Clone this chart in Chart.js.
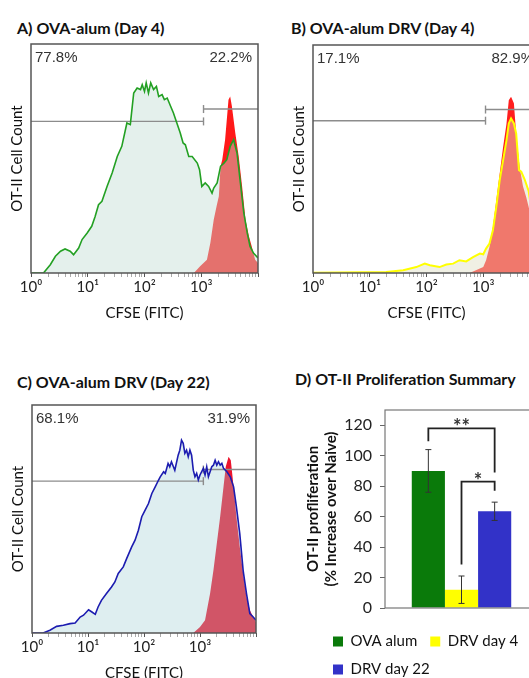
<!DOCTYPE html>
<html lang="en">
<head>
<meta charset="UTF-8">
<title>OT-II proliferation</title>
<script src="https://cdn.jsdelivr.net/npm/chart.js"></script>
<style>
  body { margin: 0; width: 529px; height: 678px; overflow: hidden; position: relative; background: #fff; }
  canvas { position: absolute; }
  .head { position: absolute; font-family: Lato, "Open Sans", sans-serif; font-weight: bold; font-size: 16px; line-height: 20px; color: #111; white-space: nowrap; }
</style>
</head>
<body>
<div class="head" style="left:17px;top:18px">A) OVA-alum (Day 4)</div>
<div class="head" style="left:291px;top:18px">B) OVA-alum DRV (Day 4)</div>
<div class="head" style="left:17px;top:372px">C) OVA-alum DRV (Day 22)</div>
<div class="head" style="left:295px;top:369px">D) OT-II Proliferation Summary</div>

<canvas id="chartA" width="265" height="330" style="left:0;top:0"></canvas>
<canvas id="chartB" width="265" height="330" style="left:282px;top:0"></canvas>
<canvas id="chartC" width="264" height="350" style="left:1px;top:340px"></canvas>
<canvas id="chartD" width="280" height="338" style="left:270px;top:340px"></canvas>

<script>
// x positions are log10(CFSE), y is cell count in % of the plot height
const decadeLabels = ['10⁰', '10¹', '10²', '10³'];

// A) OVA-alum day 4
const aLineX = [0,0.22,0.34,0.43,0.52,0.60,0.69,0.75,0.84,0.90,0.99,1.07,1.13,1.19,1.25,1.34,1.43,1.52,1.60,1.69,1.75,1.81,1.87,1.93,1.96,2.00,2.03,2.07,2.11,2.16,2.21,2.25,2.31,2.35,2.40,2.46,2.51,2.57,2.63,2.68,2.72,2.78,2.84,2.93,2.97,3.01,3.07,3.13,3.19,3.22,3.28,3.34,3.40,3.45,3.51,3.57,3.63,3.69,3.75,3.81,3.86,3.92,4.00];
const aLineY = [0,0,3.6,7.3,9.5,10.5,9.5,8.0,10.9,14.6,17.5,20.4,24.7,29.8,31.3,37.8,43.7,50.9,55.3,65.5,64.8,78.6,80.8,80.1,82.2,79.3,83.0,78.6,83.0,80.1,81.5,77.1,77.9,75.7,76.4,72.8,69.9,65.5,61.1,56.8,56.0,50.9,50.9,48.0,45.1,37.8,39.3,37.8,34.9,37.1,39.3,46.6,48.0,49.5,55.3,58.2,52.4,39.3,26.2,17.5,11.6,8.7,6.6];
const aRedX = [2.87,2.98,3.10,3.16,3.22,3.27,3.31,3.34,3.37,3.42,3.48,3.51,3.54,3.60,3.66,3.72,3.78,3.84,3.89,3.95,4.00];
const aRedY = [0,2.9,5.8,13.1,23.3,29.1,33.5,46.6,49.5,58.2,75.7,77.1,72.8,61.1,50.9,37.8,23.3,16.0,11.6,5.8,4.4];
const aGates = [66.2, 71.6];
const aSplit = 3.04;
const aPct = ['77.8%', '22.2%'];

// B) OVA-alum DRV day 4
const bLineX = [0,1.29,1.59,1.82,1.97,2.06,2.23,2.35,2.47,2.58,2.70,2.82,2.94,3.00,3.05,3.11,3.17,3.23,3.29,3.35,3.41,3.45,3.49,3.54,3.58,3.63,3.67,3.73,3.80,3.88,3.94,4.00];
const bLineY = [0.1,0.4,1.2,2.6,4.1,3.4,2.6,3.7,4.1,5.6,5.1,7.0,8.5,8.2,10.7,12.9,18.7,29.0,40.7,49.5,58.3,65.6,67.8,65.6,61.2,45.1,44.4,41.0,36.0,22.0,10.0,2.0];
const bRedX = [2.76,3.00,3.05,3.11,3.17,3.23,3.29,3.35,3.41,3.45,3.49,3.54,3.58,3.64,3.70,3.76,3.81,3.88,3.95,4.00];
const bRedY = [0,2.6,5.6,11.4,20.2,31.9,43.6,55.3,65.6,75.8,77.3,74.4,61.2,46.6,38.0,33.0,28.0,15.0,5.0,2.0];
const bGates = [66.8, 71.7];
const bSplit = 3.04;
const bPct = ['17.1%', '82.9%'];

// C) OVA-alum DRV day 22
const cLineX = [0,0.20,0.32,0.44,0.56,0.68,0.77,0.86,0.92,1.01,1.07,1.13,1.18,1.24,1.33,1.42,1.48,1.54,1.63,1.69,1.78,1.84,1.90,1.96,2.02,2.08,2.14,2.20,2.26,2.29,2.35,2.38,2.43,2.46,2.49,2.55,2.61,2.64,2.67,2.70,2.73,2.76,2.79,2.82,2.85,2.88,2.91,2.94,2.97,3.00,3.06,3.09,3.12,3.15,3.21,3.24,3.27,3.30,3.33,3.36,3.39,3.42,3.48,3.54,3.60,3.65,3.71,3.77,3.83,3.89,3.95,4.00];
const cLineY = [0,0,1.2,2.9,3.4,4.1,4.4,7.0,7.8,10.2,9.2,8.2,11.4,14.3,17.3,20.2,22.4,26.1,29.0,32.6,37.8,40.7,45.1,51.0,53.9,56.8,61.2,64.1,67.1,68.5,70.7,70.0,74.4,72.9,75.1,71.4,78.0,80.2,84.6,83.2,78.8,80.2,77.3,80.2,78.0,71.4,68.5,70.0,67.1,69.3,72.2,69.3,72.9,68.5,72.9,73.6,75.8,73.6,75.1,73.6,74.4,72.2,70.7,68.5,64.1,55.3,43.6,27.5,17.3,8.5,7.0,5.6];
const cRedX = [2.88,3.00,3.09,3.18,3.24,3.30,3.36,3.42,3.46,3.51,3.55,3.60,3.65,3.71,3.77,3.83,3.89,3.95,4.00];
const cRedY = [0,2.6,5.6,17.3,27.5,39.2,51.0,64.1,72.9,77.3,75.8,64.1,51.0,37.8,26.1,15.8,10.0,7.0,4.8];
const cGates = [66.6, 71.7];
const cSplit = 3.06;
const cPct = ['68.1%', '31.9%'];

// D) proliferation summary
const barLabels = ['OVA alum', 'DRV day 4', 'DRV day 22'];
const barValues = [90, 12, 63.5];
const barErrors = [14, 9, 6];
const yTicksD = [0, 20, 40, 60, 80, 100, 120];
const sigText = ['**', '*'];
const sigFrom = [0, 1];
const sigTo = [2, 2];
const sigTop = [118, 83];
const sigLeftEnd = [109.5, 28.5];
const sigRightEnd = [89, 77];

const calibri = 'Lato, "Open Sans", sans-serif';
const arial = '"Liberation Sans", Arial, sans-serif';

function pts(xs, ys) {
  return xs.map((x, i) => ({ x: x, y: ys[i] }));
}

// outline of the plot area
const framePlugin = {
  id: 'frame',
  afterDatasetsDraw(chart, args, opts) {
    const a = chart.chartArea, ctx = chart.ctx;
    ctx.save();
    ctx.strokeStyle = opts.color || '#555';
    ctx.lineWidth = opts.width || 1.5;
    ctx.strokeRect(a.left, a.top, a.right - a.left, a.bottom - a.top);
    ctx.restore();
  }
};

// gate percentages in the top corners
const cornerPlugin = {
  id: 'corner',
  afterDatasetsDraw(chart, args, opts) {
    if (!opts.texts) return;
    const a = chart.chartArea, ctx = chart.ctx;
    ctx.save();
    ctx.font = '15px ' + arial;
    ctx.fillStyle = '#333';
    ctx.textBaseline = 'middle';
    ctx.textAlign = 'left';
    ctx.fillText(opts.texts[0], a.left + 4, a.top + 14);
    ctx.textAlign = 'right';
    ctx.fillText(opts.texts[1], a.right - 6, a.top + 14);
    ctx.restore();
  }
};

const decadeTicks = [];
for (let n = 0; n < 4; n++) {
  for (let k = 1; k < 10; k++) decadeTicks.push(n + Math.log10(k));
}
decadeTicks.push(4);

function histChart(id, p) {
  const gateStyle = {
    borderColor: '#8c8c8c', borderWidth: 1.4, pointStyle: 'line', pointRotation: 90,
    pointBorderColor: '#8c8c8c', pointBorderWidth: 1.4, pointBackgroundColor: '#8c8c8c',
    fill: false, tension: 0, order: 1
  };
  return new Chart(document.getElementById(id), {
    type: 'line',
    data: {
      datasets: [
        { data: pts(p.lineX, p.lineY), borderColor: p.line, borderWidth: p.lineWidth, fill: false, pointRadius: 0, tension: 0, order: 0 },
        Object.assign({ data: [{ x: 0, y: p.gates[0] }, { x: p.split, y: p.gates[0] }], pointRadius: [0, 4] }, gateStyle),
        Object.assign({ data: [{ x: p.split, y: p.gates[1] }, { x: 4, y: p.gates[1] }], pointRadius: [4, 0] }, gateStyle),
        { data: pts(p.lineX, p.lineY), borderWidth: 0, borderColor: 'rgba(0,0,0,0)', backgroundColor: p.fill, fill: 'origin', pointRadius: 0, tension: 0, order: 2 },
        { data: pts(p.redX, p.redY), borderWidth: 0, borderColor: 'rgba(0,0,0,0)', backgroundColor: p.red, fill: 'origin', pointRadius: 0, tension: 0, order: 3 }
      ]
    },
    options: {
      responsive: false,
      animation: false,
      events: [],
      layout: { padding: p.pad },
      scales: {
        x: {
          type: 'linear', min: 0, max: 4,
          afterBuildTicks: s => { s.ticks = decadeTicks.map(v => ({ value: v })); },
          afterFit: s => { s.height = 57; },
          ticks: {
            autoSkip: false, maxRotation: 0, padding: 1, color: '#222',
            font: { family: calibri, size: 15 },
            callback: v => (Number.isInteger(v) && v < 4 ? decadeLabels[v] : '')
          },
          grid: {
            drawOnChartArea: false, tickLength: 4,
            color: c => (c.tick && Number.isInteger(c.tick.value) ? '#555' : '#aaa')
          },
          border: { display: false },
          title: { display: true, text: 'CFSE (FITC)', color: '#111', font: { family: calibri, size: 15 }, padding: 8 }
        },
        y: {
          min: 0, max: 100,
          afterFit: s => { s.width = 31; },
          ticks: { display: false },
          grid: { display: false },
          border: { display: false },
          title: { display: true, text: 'OT-II Cell Count', color: '#111', font: { family: calibri, size: 15 }, padding: 8 }
        }
      },
      plugins: {
        legend: { display: false },
        tooltip: { enabled: false },
        frame: { color: '#555', width: 1.5 },
        corner: { texts: p.pct }
      }
    },
    plugins: [framePlugin, cornerPlugin]
  });
}

histChart('chartA', {
  lineX: aLineX, lineY: aLineY, redX: aRedX, redY: aRedY, gates: aGates, split: aSplit, pct: aPct,
  line: '#23a023', lineWidth: 1.6, fill: 'rgba(195,222,213,0.45)', red: 'rgb(255,25,25)',
  pad: { top: 44, right: 7, left: 0, bottom: 0 }
});
histChart('chartB', {
  lineX: bLineX, lineY: bLineY, redX: bRedX, redY: bRedY, gates: bGates, split: bSplit, pct: bPct,
  line: '#ffff00', lineWidth: 2, fill: 'rgba(223,223,198,0.47)', red: 'rgb(255,30,30)',
  pad: { top: 45, right: 7, left: 0, bottom: 0 }
});
histChart('chartC', {
  lineX: cLineX, lineY: cLineY, redX: cRedX, redY: cRedY, gates: cGates, split: cSplit, pct: cPct,
  line: '#1c1cb0', lineWidth: 1.6, fill: 'rgba(161,206,212,0.35)', red: 'rgb(235,20,45)',
  pad: { top: 65, right: 9, left: 0, bottom: 0 }
});

// error bars on the summary bars
const errorPlugin = {
  id: 'errors',
  afterDatasetsDraw(chart) {
    const ctx = chart.ctx, y = chart.scales.y;
    ctx.save();
    ctx.strokeStyle = '#333';
    ctx.lineWidth = 1;
    barErrors.forEach((e, i) => {
      const bar = chart.getDatasetMeta(i).data[0];
      const top = y.getPixelForValue(barValues[i] + e);
      const bot = y.getPixelForValue(barValues[i] - e);
      ctx.beginPath();
      ctx.moveTo(bar.x, top); ctx.lineTo(bar.x, bot);
      ctx.moveTo(bar.x - 3, top); ctx.lineTo(bar.x + 3, top);
      ctx.moveTo(bar.x - 3, bot); ctx.lineTo(bar.x + 3, bot);
      ctx.stroke();
    });
    ctx.restore();
  }
};

// significance brackets
const sigPlugin = {
  id: 'sig',
  afterDatasetsDraw(chart) {
    const ctx = chart.ctx, y = chart.scales.y;
    ctx.save();
    ctx.strokeStyle = '#222';
    ctx.lineWidth = 1.8;
    ctx.fillStyle = '#333';
    ctx.font = 'bold 20px ' + calibri;
    ctx.textAlign = 'center';
    ctx.textBaseline = 'alphabetic';
    sigText.forEach((t, i) => {
      const xa = chart.getDatasetMeta(sigFrom[i]).data[0].x;
      const xb = chart.getDatasetMeta(sigTo[i]).data[0].x;
      const yt = y.getPixelForValue(sigTop[i]);
      ctx.beginPath();
      ctx.moveTo(xa, y.getPixelForValue(sigLeftEnd[i]));
      ctx.lineTo(xa, yt);
      ctx.lineTo(xb, yt);
      ctx.lineTo(xb, y.getPixelForValue(sigRightEnd[i]));
      ctx.stroke();
      ctx.fillText(t, (xa + xb) / 2, yt + 6);
    });
    ctx.restore();
  }
};

// legend sits to the left of the plot, under the axis title
const legendSpot = { left: 50, top: 281 };
const legendMove = {
  id: 'legendMove',
  afterLayout(chart) {
    chart.legend.left = legendSpot.left;
    chart.legend.top = legendSpot.top;
  }
};

new Chart(document.getElementById('chartD'), {
  type: 'bar',
  data: {
    labels: [''],
    datasets: barLabels.map((lab, i) => ({
      label: lab,
      data: [barValues[i]],
      backgroundColor: ['#0a7a0a', '#ffff00', '#3232c8'][i],
      borderWidth: 0,
      categoryPercentage: 0.65,
      barPercentage: 1
    }))
  },
  options: {
    responsive: false,
    animation: false,
    events: [],
    layout: { padding: { top: 70, right: 12, left: 0, bottom: 0 } },
    scales: {
      x: {
        afterFit: s => { s.height = 4; },
        ticks: { display: false },
        grid: { display: false },
        border: { display: false }
      },
      y: {
        min: 0, max: 130,
        afterBuildTicks: s => { s.ticks = yTicksD.map(v => ({ value: v })); },
        afterFit: s => { s.width = 115; },
        ticks: { color: '#222', padding: 8, font: { family: calibri, size: 16 } },
        grid: { drawOnChartArea: false, tickLength: 5, color: '#666' },
        border: { display: false },
        title: {
          display: true, text: ['OT-II profliferation', '(% Increase over Naive)'],
          color: '#111', font: { family: calibri, size: 15, weight: 'bold' }, padding: { top: 34, bottom: 0 }
        }
      }
    },
    plugins: {
      legend: {
        position: 'bottom', align: 'start',
        labels: { boxWidth: 10, boxHeight: 10, padding: 13, color: '#111', font: { family: calibri, size: 15 } }
      },
      tooltip: { enabled: false },
      frame: { color: '#777', width: 1.2 }
    }
  },
  plugins: [framePlugin, errorPlugin, sigPlugin, legendMove]
});
</script>
</body>
</html>
